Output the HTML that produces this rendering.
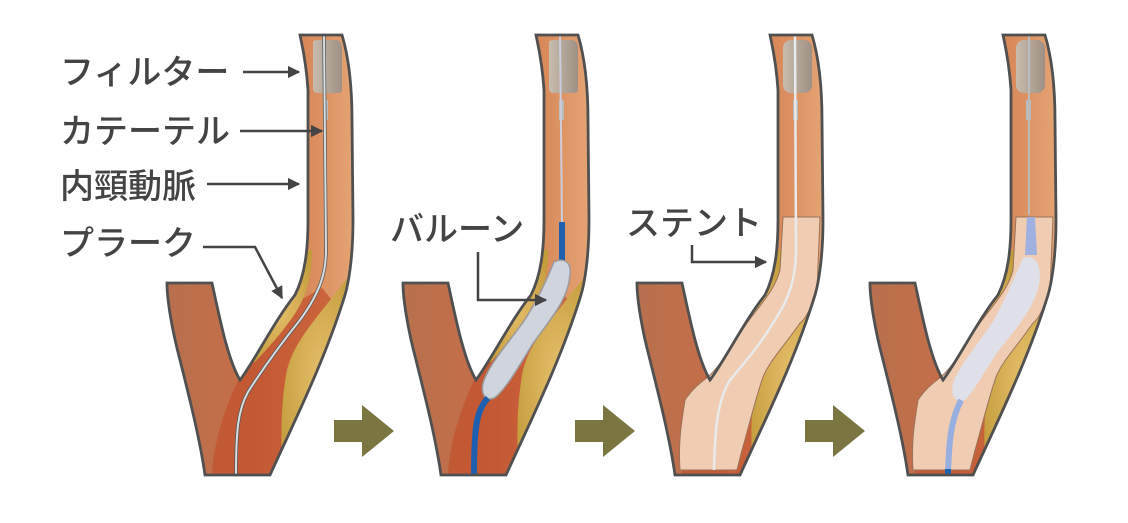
<!DOCTYPE html>
<html><head><meta charset="utf-8"><style>
html,body{margin:0;padding:0;background:#fff;width:1128px;height:523px;overflow:hidden}
svg{display:block}
text{font-family:"Liberation Sans","Noto Sans CJK JP",sans-serif;fill:#444;font-size:34px;font-weight:500}
</style></head><body>
<svg width="1128" height="523" viewBox="0 0 1128 523" xmlns="http://www.w3.org/2000/svg">
<defs>
<linearGradient id="vg" x1="167" y1="0" x2="353" y2="0" gradientUnits="userSpaceOnUse">
<stop offset="0" stop-color="#b8704e"/><stop offset="0.45" stop-color="#c66e48"/><stop offset="0.75" stop-color="#d8895a"/><stop offset="1" stop-color="#e4a374"/></linearGradient>
<radialGradient id="pg" cx="0.5" cy="0.5" r="0.6"><stop offset="0" stop-color="#e6bf6c"/><stop offset="1" stop-color="#c39c3c"/></radialGradient>
<linearGradient id="fg" x1="0" y1="0" x2="1" y2="0"><stop offset="0" stop-color="#c8bcae"/><stop offset="1" stop-color="#9e9084"/></linearGradient>
<marker id="ah" viewBox="0 0 10 10" refX="9" refY="5" markerWidth="5" markerHeight="5" orient="auto"><path d="M0,0L10,5L0,10z" fill="#444"/></marker>
<path id="vessel" d="M167,283 L212,283 C220,320 228,360 240,380 C255,360 275,320 295,295 C305,275 308,250 308,220 L308,90 C306,60 302,45 300,35 L342,35 C348,55 352,80 352,120 L353,220 C353,260 348,285 345,295 C325,360 295,420 270,475 L205,475 C200,440 190,400 180,360 C172,330 167,300 167,283 Z"/>
<clipPath id="vc"><use href="#vessel"/></clipPath>
<g id="plaques">
<path d="M300,250 L312,250 C312,280 305,300 292,318 C280,335 268,348 255,362 L245,362 C262,340 275,325 285,305 C292,292 298,275 300,250 Z" fill="url(#pg)"/>
<path d="M350,275 L365,300 L300,485 L283,480 C280,440 281,400 287,370 C294,342 315,320 338,290 Z" fill="url(#pg)"/>
</g>
<g id="base">
<use href="#vessel" fill="url(#vg)"/>
<g clip-path="url(#vc)">
<path d="M262,335 C280,312 300,300 322,288 L332,300 C315,350 300,400 292,475 L212,475 C214,430 235,380 262,335 Z" fill="#c2502c" opacity="0.7"/>
<use href="#plaques"/>
</g>
<path d="M313,42 Q313,40 320,40 L336,40 Q342,40 342,50 L342,90 Q342,93 336,93 L318,93 Q313,93 313,88 Z" fill="url(#fg)"/>
<rect x="323" y="100" width="5" height="20" fill="#bbb"/>
</g>
<g id="stent">
<path d="M313,217 L350,217 L347,290 C340,310 335,320 330,323 C315,345 300,360 293,377 C285,400 278,430 272,450 L267,470 L210,470 C208,440 212,420 215,400 C225,385 235,380 240,375 C255,360 265,340 277,323 C290,305 305,290 310,270 Z" fill="#f0cdb2" stroke="#9c7258" stroke-width="1"/>
</g>
<g id="base2">
<use href="#vessel" fill="url(#vg)"/>
<g clip-path="url(#vc)">
<path d="M250,350 C280,330 300,310 320,290 L340,300 C320,360 300,420 292,475 L212,475 C214,430 230,380 250,350 Z" fill="#c2502c" opacity="0.6"/>
<use href="#plaques"/>
</g>
<rect x="313" y="40" width="29" height="53" rx="8" fill="url(#fg)"/>
<rect x="323" y="100" width="5" height="20" fill="#bbb"/>
</g>
</defs>

<g>
<use href="#base"/>
<g clip-path="url(#vc)">
<path d="M324,35 L326,250 C326,270 322,290 300,320 C280,345 262,370 248,392 C238,410 236,430 236,475" fill="none" stroke="#555" stroke-width="3.5"/>
<path d="M324,35 L326,250 C326,270 322,290 300,320 C280,345 262,370 248,392 C238,410 236,430 236,475" fill="none" stroke="#d8dee0" stroke-width="2"/>
</g>
<use href="#vessel" fill="none" stroke="#505050" stroke-width="2.8"/>
</g>

<g transform="translate(236,0)">
<use href="#base"/>
<path d="M324,35 L326,225" fill="none" stroke="#ccd" stroke-width="2"/>
<path d="M326,222 L326,262" stroke="#1f5fb0" stroke-width="6"/>
<path d="M318,262 C326,258 336,260 334,275 C332,300 315,318 296,345 C282,368 268,392 258,398 C248,402 244,392 248,380 C256,360 275,340 290,318 C300,302 310,282 318,262 Z" fill="#d0d4dc" stroke="#9a9aa0" stroke-width="1.5"/>
<path d="M252,398 C240,410 238,430 238,475" fill="none" stroke="#1f5fb0" stroke-width="6"/>
<use href="#vessel" fill="none" stroke="#505050" stroke-width="2.8"/>
</g>

<g transform="translate(470,0)">
<use href="#base2"/>
<use href="#stent"/>
<path d="M325,35 L326,250 C326,280 318,300 305,320 C290,345 275,362 260,380 C248,400 245,425 244,470" fill="none" stroke="#e8eaec" stroke-width="2.5"/>
<use href="#vessel" fill="none" stroke="#505050" stroke-width="2.8"/>
</g>

<g transform="translate(703,0)">
<use href="#base2"/>
<path d="M326,35 L326,215" stroke="#bbb" stroke-width="2"/>
<use href="#stent"/>
<path d="M324,217 L332,217 L334,255 L322,255 Z" fill="#a0b0e0"/>
<path d="M320,258 C330,254 340,262 336,285 C330,310 312,330 296,350 C282,370 272,390 262,400 C250,404 246,392 252,378 C262,358 280,338 292,318 C302,300 310,280 320,258 Z" fill="#dde2ee" opacity="0.9"/>
<path d="M258,400 C248,420 246,440 245,475" fill="none" stroke="#97aee0" stroke-width="6"/>
<rect x="242" y="469" width="6" height="7" fill="#1f5fb0"/>
<use href="#vessel" fill="none" stroke="#505050" stroke-width="2.8"/>
</g>

<g fill="#7b7542">
<path d="M334,420 L362,420 L362,405 L394,431 L362,457 L362,442 L334,442 Z"/>
<path d="M575,420 L603,420 L603,405 L635,431 L603,457 L603,442 L575,442 Z"/>
<path d="M805,420 L833,420 L833,405 L865,431 L833,457 L833,442 L805,442 Z"/>
</g>

<text x="60" y="84">フィルター</text>
<text x="60" y="143">カテーテル</text>
<text x="60" y="198">内頸動脈</text>
<text x="60" y="255">プラーク</text>
<g stroke="#444" stroke-width="2.5" fill="none" marker-end="url(#ah)">
<path d="M243,72 L299,72"/>
<path d="M240,131 L322,131"/>
<path d="M207,184 L299,184"/>
<path d="M203,247 L255,247 L282,298"/>
<path d="M478,252 L478,300 L546,300"/>
<path d="M692,245 L692,262 L766,262"/>
</g>
<text x="390" y="241">バルーン</text>
<text x="626" y="235">ステント</text>
</svg>
</body></html>
